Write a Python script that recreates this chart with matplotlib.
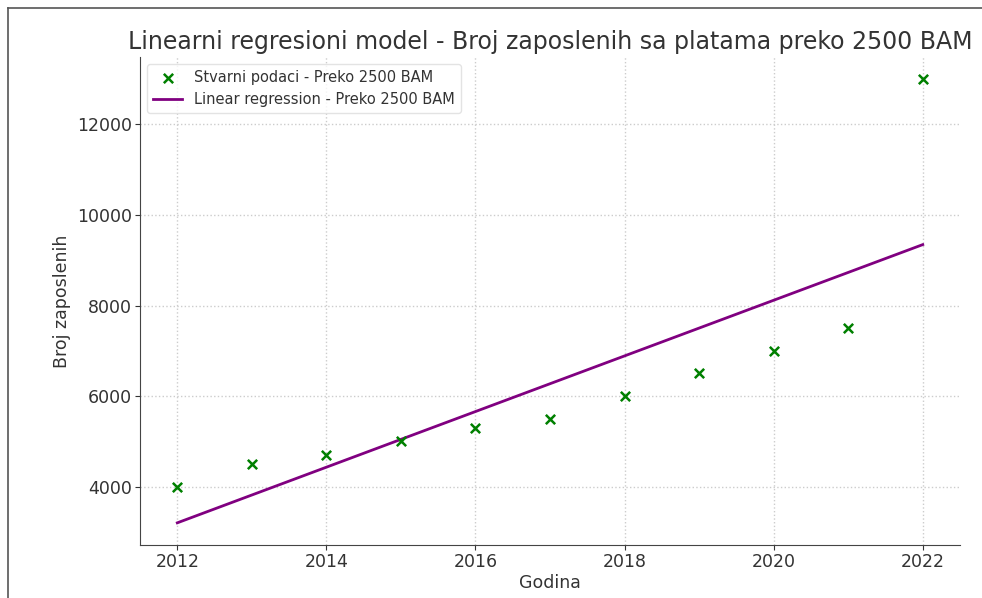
import numpy as np
import matplotlib.pyplot as plt
from matplotlib.lines import Line2D

godine = np.array([2012, 2013, 2014, 2015, 2016, 2017, 2018, 2019, 2020, 2021, 2022])
zaposleni = np.array([4000, 4500, 4700, 5000, 5300, 5500, 6000, 6500, 7000, 7500, 13000])

# linear fit through the actual points
k, n = np.polyfit(godine, zaposleni, 1)
predikcija = k * godine + n

fig = plt.figure(figsize=(9.82, 5.98), dpi=100)
ax = fig.add_axes([0.1426, 0.0886, 0.835, 0.8161])

ax.scatter(godine, zaposleni, marker="x", color="green", s=45, linewidths=1.8,
           label="Stvarni podaci - Preko 2500 BAM", zorder=3)
ax.plot(godine, predikcija, color="purple", linewidth=2,
        label="Linear regression - Preko 2500 BAM")

ax.set_title("Linearni regresioni model - Broj zaposlenih sa platama preko 2500 BAM",
             fontsize=17, color="#333333", pad=6)
ax.set_xlabel("Godina", fontsize=12.5, color="#333333", labelpad=2)
ax.set_ylabel("Broj zaposlenih", fontsize=12.5, color="#333333")
ax.tick_params(labelsize=12.5, colors="#333333", pad=2.5)
ax.grid(True, linestyle=":", color="#cccccc", linewidth=1)
ax.spines["top"].set_visible(False)
ax.spines["right"].set_visible(False)
ax.spines["left"].set_color("#444444")
ax.spines["bottom"].set_color("#444444")

ax.legend(loc="upper left", fontsize=10.5, frameon=True, edgecolor="#dddddd",
          labelcolor="#333333")

# screenshot frame at left and top
fig.add_artist(Line2D([0.0085, 0.0085], [0, 0.987], color="#555555", linewidth=1.2))
fig.add_artist(Line2D([0.0085, 1], [0.987, 0.987], color="#555555", linewidth=1.2))

plt.savefig("out.png", dpi=100)
